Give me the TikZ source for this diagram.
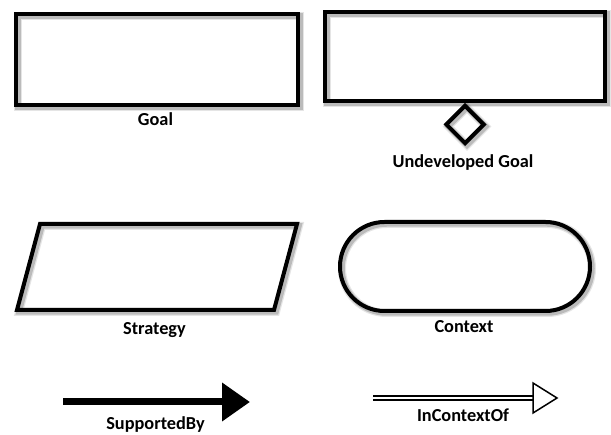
\documentclass[tikz,border=0pt]{standalone}
\usepackage{fontspec}
\setmainfont{Carlito}
\usetikzlibrary{shapes.geometric,shapes.misc,arrows.meta}
\begin{document}
\begin{tikzpicture}[x=1pt,y=-1pt,
  shadowed/.style={
    preaction={draw=black, opacity=0.10, line width=8pt, transform canvas={shift={(2,2)}}},
    preaction={draw=black, opacity=0.18, line width=5.5pt, transform canvas={shift={(2,2)}}}},
  gsnshape/.style={draw=black, line width=4pt, inner sep=0pt, line join=miter, shadowed},
  lbl/.style={font=\bfseries\fontsize{18.3}{21}\selectfont, anchor=base, inner sep=0pt},
]
\useasboundingbox[fill=white] (0,0) rectangle (611,435);

% Goal
\node[gsnshape, minimum width=282pt, minimum height=91pt] (goal) at (157,59.5) {};
\node[lbl] (goallbl) at (155.5,126) {Goal};

% Undeveloped Goal
\node[gsnshape, minimum width=280pt, minimum height=89pt] (ugoal) at (465,56.5) {};
\node[gsnshape, diamond, minimum width=39pt, minimum height=39pt, anchor=north] (udiamond) at (ugoal.south) {};
\node[lbl] (ugoallbl) at (463,168) {Undeveloped Goal};

% Strategy
\coordinate (s1) at (17,310);
\coordinate (s2) at (40,224);
\coordinate (s3) at (297,224);
\coordinate (s4) at (274,310);
\draw[gsnshape] (s1) -- (s2) -- (s3) -- (s4) -- cycle;
\node[lbl] (stratlbl) at (154.5,335) {Strategy};

% Context
\node[gsnshape, rounded rectangle, minimum width=250pt, minimum height=89pt] (context) at (465,266.5) {};
\node[lbl] (contextlbl) at (464,333) {Context};

% SupportedBy
\coordinate (sb1) at (63,402);
\coordinate (sb2) at (250,402);
\draw[line width=7pt, -{Triangle[length=28pt,width=37pt]}] (sb1) -- (sb2);
\node[lbl] (sblbl) at (155.5,430) {SupportedBy};

% InContextOf
\coordinate (ic1) at (373,398);
\coordinate (ich) at (533,398);
\coordinate (ic2) at (557,398);
\coordinate (ict) at (533,383);
\coordinate (icb) at (533,413);
\draw[line width=1.3pt, double=white, double distance=2.6pt] (ic1) -- (ich);
\draw[line width=1.5pt, fill=white, line join=miter] (ict) -- (ic2) -- (icb) -- cycle;
\node[lbl] (iclbl) at (463,422) {InContextOf};
\end{tikzpicture}
\end{document}
